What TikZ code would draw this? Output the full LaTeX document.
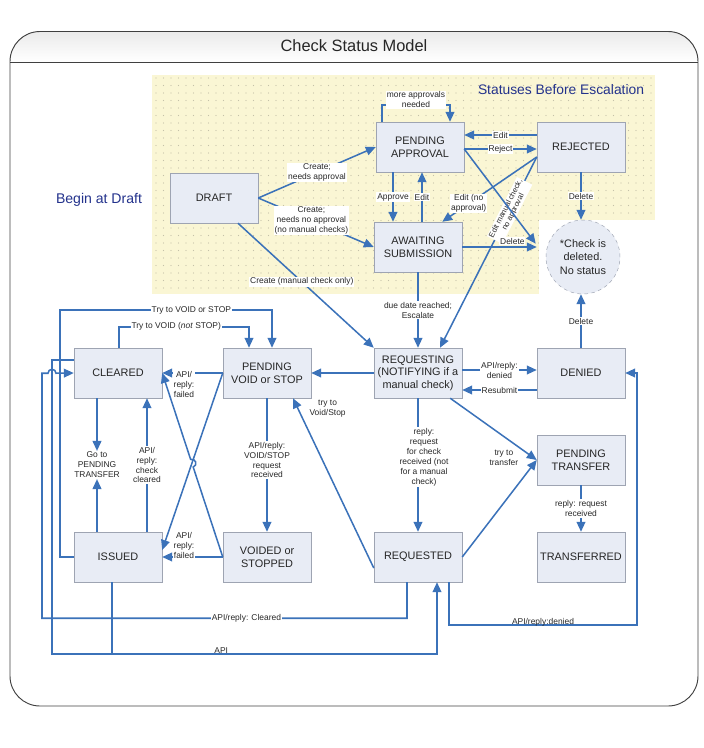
\documentclass[tikz,border=0pt]{standalone}
\usepackage{fontspec}
\setmainfont{Liberation Sans}
\usepackage{tikz}
\usetikzlibrary{arrows.meta, calc, positioning}
\definecolor{flowblue}{RGB}{59, 114, 185}
\definecolor{boxfill}{RGB}{232, 236, 245}
\definecolor{boxdraw}{RGB}{158, 164, 178}
\definecolor{notepad}{RGB}{250, 246, 212}
\definecolor{notedot}{RGB}{196, 193, 168}
\definecolor{navytext}{RGB}{35, 50, 140}
\definecolor{framegray}{RGB}{64, 64, 64}
\definecolor{labelgray}{RGB}{40, 40, 40}

\begin{document}
\begin{tikzpicture}[
    x=0.03cm, y=-0.03cm,
    status/.style={rectangle, draw=boxdraw, fill=boxfill, minimum width=2.64cm, minimum height=1.5cm, inner sep=1pt, align=center, font=\fontsize{9.3}{10.8}\selectfont, text=black!85},
    gone/.style={circle, draw=boxdraw, dashed, fill=boxfill, minimum size=2.22cm, inner sep=0pt, align=center, font=\fontsize{9.3}{11.7}\selectfont, text=black!85},
    arrow/.style={-{Triangle[length=8.5pt, width=7.5pt]}, line width=1.3pt, draw=flowblue},
    link/.style={line width=1.3pt, draw=flowblue},
    lbl/.style={fill=white, inner sep=0.8pt, align=center, text=labelgray, font=\fontsize{7.2}{8.5}\selectfont},
    note/.style={inner sep=0.8pt, align=center, text=labelgray, font=\fontsize{7.2}{8.5}\selectfont}
]
\useasboundingbox (0,0) rectangle (704,748);

% Frame and title band
\begin{scope}
\clip[rounded corners=0.9cm] (10,31.5) rectangle (698,706);
\fill[top color=gray!16, bottom color=white] (10,31.5) rectangle (698,62);
\end{scope}
\draw[framegray, line width=0.8pt, rounded corners=0.9cm] (10,31.5) rectangle (698,706);
\draw[framegray, line width=0.8pt] (10,62) -- (698,62);
\node[font=\fontsize{14}{16}\selectfont, text=black!85] (title) at (354,46) {Check Status Model};

% Dotted area before escalation
\fill[notepad] (152,75) rectangle (655,294);
\foreach \i in {0,...,66}
  \foreach \j in {0,...,28}
    \fill[notedot] (156+7.5*\i, 78+7.5*\j) circle[radius=0.45pt];
\fill[white] (539,219.5) rectangle (655,294);
\node[font=\fontsize{11.8}{14}\selectfont, text=navytext] (escalation) at (561,90) {Statuses Before Escalation};
\node[font=\fontsize{12}{14}\selectfont, text=navytext] (begin) at (99,200) {Begin at Draft};

% Statuses before escalation
\node[status] (draft) at (214,198) {DRAFT};
\node[status] (pa) at (420,147) {PENDING\\APPROVAL};
\node[status] (await) at (418,247) {AWAITING\\SUBMISSION};
\node[status] (rejected) at (581,147) {REJECTED};
\node[gone] (deleted) at (583,257) {*Check is\\deleted.\\No status};

% Statuses after escalation
\node[status] (cleared) at (118,373) {CLEARED};
\node[status] (pvs) at (267,373) {PENDING\\VOID or STOP};
\node[status] (issued) at (118,557) {ISSUED};
\node[status] (voided) at (267,557) {VOIDED or\\STOPPED};
\node[status] (requesting) at (418,373) {REQUESTING\\(NOTIFYING if a\\manual check)};
\node[status] (requested) at (418,557) {REQUESTED};
\node[status] (denied) at (581,373) {DENIED};
\node[status] (ptransfer) at (581,460) {PENDING\\TRANSFER};
\node[status] (transferred) at (581,557) {TRANSFERRED};
\node[note] (gototransfer) at (97,465) {Go to\\PENDING\\TRANSFER};

% Arrows from draft
\draw[arrow] (draft.east) -- (pa.west) node[lbl, pos=0.5] {Create;\\needs approval};
\draw[arrow] (draft.east) -- (await.west) node[lbl, pos=0.46] {Create;\\needs no approval\\(no manual checks)};
\draw[arrow] ([xshift=0.72cm]draft.south) -- (requesting.north west) node[lbl, pos=0.47] {Create (manual check only)};

% Approval loop
\draw[arrow] ([xshift=-1.14cm]pa.north) -- ++(0,-17) -| ([xshift=0.9cm]pa.north) node[lbl, pos=0.25, yshift=0.15cm] {more approvals\\needed};
\draw[arrow] ([yshift=0.36cm]rejected.west) -- ([yshift=0.36cm]pa.east) node[lbl, midway] {Edit};
\draw[arrow] ([yshift=-0.06cm]pa.east) -- ([yshift=-0.06cm]rejected.west) node[lbl, midway] {Reject};
\draw[arrow] ([xshift=-0.81cm]pa.south) -- ([xshift=-0.81cm]pa.south |- await.north) node[lbl, midway] {Approve};
\draw[arrow] ([xshift=0.12cm]await.north) -- ([xshift=0.12cm]await.north |- pa.south) node[lbl, midway] {Edit};

% Rejected
\draw[arrow] ([yshift=-0.3cm]rejected.west) -- ([xshift=0.66cm]requesting.north) node[lbl, pos=0.28, sloped, font=\fontsize{6.5}{7}\selectfont] {Edit manual check,\\no approval};
\draw[arrow] ([yshift=-0.3cm]rejected.west) -- ([xshift=-0.6cm]await.north east) node[lbl, pos=0.72] {Edit (no\\approval)};

% Deleted
\draw[arrow, shorten >=0.5cm] ([yshift=-0.06cm]pa.east) -- (deleted.west);
\draw[arrow, shorten >=0.27cm] (await.east) -- (await.east -| deleted.west) node[lbl, pos=0.6, above=1pt] {Delete};
\draw[arrow] (rejected.south) -- (rejected.south |- deleted.north) node[lbl, midway] {Delete};
\draw[arrow] (denied.north) -- (denied.north |- deleted.south) node[lbl, midway] {Delete};

% Escalation
\draw[arrow] (await.south) -- (requesting.north) node[lbl, midway] {due date reached;\\Escalate};
\draw[arrow] ([yshift=0.09cm]requesting.east) -- ([yshift=0.09cm]denied.west) node[lbl, midway] {API/reply:\\denied};
\draw[arrow] ([yshift=-0.51cm]denied.west) -- ([yshift=-0.51cm]requesting.east) node[lbl, midway] {Resubmit};
\draw[arrow] (requesting.west) -- (pvs.east);
\draw[arrow] ([xshift=-0.36cm]requesting.south east) -- (ptransfer.west) node[note, pos=0.62, below=0.36cm] {try to\\transfer};
\draw[arrow] (requested.east) -- (ptransfer.west);
\draw[arrow] (ptransfer.south) -- (transferred.north) node[lbl, midway] {reply: request\\received};
\draw[arrow] (requesting.south) -- (requested.north) node[lbl, midway, xshift=0.18cm, yshift=0.24cm] {reply:\\request\\for check\\received (not\\for a manual\\check)};
\draw[arrow] ([yshift=-0.33cm]requested.west) -- ([xshift=0.78cm]pvs.south) node[note, pos=0.94, right=0.3cm] {try to\\Void/Stop};

% Void and stop
\draw[arrow] (pvs.south) -- (voided.north) node[lbl, midway, yshift=0.15cm] {API/reply:\\VOID/STOP\\request\\received};
\draw[arrow] (pvs.west) -- (cleared.east) node[lbl, pos=0.64, anchor=north, yshift=0.09cm] {API/\\reply:\\failed};
\draw[arrow] (voided.west) -- (issued.east) node[lbl, pos=0.64, anchor=south, yshift=-0.09cm] {API/\\reply:\\failed};
\coordinate (issuedin) at ([yshift=0.21cm]issued.east);
\coordinate (hop) at (intersection of pvs.west--issuedin and voided.west--cleared.east);
\draw[arrow] (pvs.west) -- (issuedin);
\draw[arrow] (voided.west) -- ($(hop)!0.12cm!(voided.west)$) arc[start angle=288.34, end angle=468.34, radius=0.12cm] -- (cleared.east);

% Cleared and issued
\draw[arrow] (cleared.south -| gototransfer.north) -- (gototransfer.north);
\draw[arrow] (issued.north -| gototransfer.south) -- (gototransfer.south);
\draw[arrow] ([xshift=0.87cm]issued.north) -- ([xshift=0.87cm]issued.north |- cleared.south) node[lbl, midway] {API/\\reply:\\check\\cleared};
\draw[arrow] ([xshift=0.03cm]cleared.north) -- ++(0,-21) -| ([xshift=-0.54cm]pvs.north) node[lbl, pos=0.22] {Try to VOID (\textit{not} STOP)};
\draw[arrow] (issued.west) -- ++(-14,0) -- ++(0,-247) -| ([xshift=0.15cm]pvs.north) node[lbl, pos=0.31] {Try to VOID or STOP};

% API replies along the bottom
\draw[arrow] ([xshift=-0.33cm]requested.south) -- ++(0,36) -- ++(-365,0) node[lbl, pos=0.44] {API/reply: Cleared} -- ++(0,-245) -- ++(6,0) arc[start angle=180, end angle=0, radius=0.12cm] -- (cleared.west);
\draw[arrow] ([yshift=0.39cm]cleared.west) -- ++(-22,0) -- ++(0,294) -| ([xshift=0.57cm]requested.south) node[note, pos=0.22, above=-1pt] {API};
\draw[link] ([xshift=-0.18cm]issued.south) -- ++(0,72);
\draw[arrow] ([xshift=0.93cm]requested.south) -- ++(0,43) -- ++(188,0) node[note, pos=0.5, above=-2pt] {API/reply:denied} |- (denied.east);
\end{tikzpicture}
\end{document}
